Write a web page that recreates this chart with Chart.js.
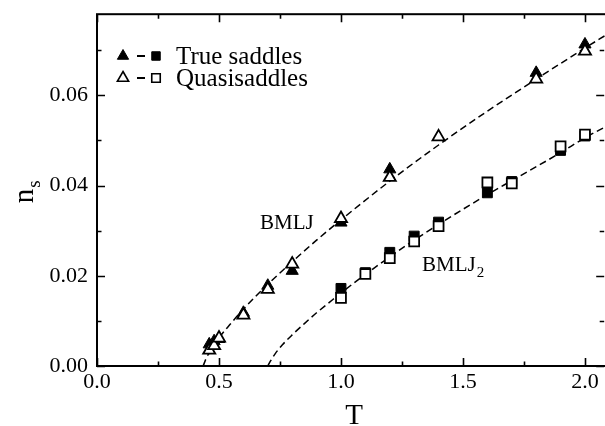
<!DOCTYPE html>
<html><head><meta charset="utf-8">
<script src="https://cdn.jsdelivr.net/npm/chart.js@4"></script>
<style>html,body{margin:0;padding:0;overflow:hidden;background:#fff}#wrap{width:615px;height:426px}</style>
</head><body><div id="wrap"><canvas id="c" width="615" height="426"></canvas></div>
<script>
// ---- data ----
const xTicks = [0, 0.5, 1.0, 1.5, 2.0];
const xTickLabels = ['0.0', '0.5', '1.0', '1.5', '2.0'];
const xMinor = [0.25, 0.75, 1.25, 1.75];
const yTicks = [0, 0.02, 0.04, 0.06];
const yTickLabels = ['0.00', '0.02', '0.04', '0.06'];
const yMinor = [0.01, 0.03, 0.05, 0.07];

// BMLJ (triangles)
const tTrueA  = [0.46, 0.48, 0.50, 0.60, 0.70, 0.80, 1.00, 1.20, 1.80, 2.00];
const nTrueA  = [0.0048, 0.0055, 0.0060, 0.0118, 0.0178, 0.0211, 0.0318, 0.0436, 0.0650, 0.0713];
const tQuasiA = [0.46, 0.48, 0.50, 0.60, 0.70, 0.80, 1.00, 1.20, 1.40, 1.80, 2.00];
const nQuasiA = [0.0035, 0.0045, 0.0062, 0.0113, 0.0170, 0.0226, 0.0327, 0.0418, 0.0508, 0.0636, 0.0698];
// BMLJ2 (squares)
const tB      = [1.0, 1.1, 1.2, 1.3, 1.4, 1.6, 1.7, 1.9, 2.0];
const nTrueB  = [0.0172, 0.0207, 0.0252, 0.0288, 0.0319, 0.0384, 0.0409, 0.0478, 0.0510];
const nQuasiB = [0.0151, 0.0204, 0.0239, 0.0276, 0.0310, 0.0407, 0.0405, 0.0487, 0.0513];
// dashed fit curves
const tFitA = [0.435, 0.45, 0.47, 0.50, 0.55, 0.60, 0.70, 0.80, 0.90, 1.00, 1.20, 1.40, 1.60, 1.80, 2.00, 2.09];
const nFitA = [0, 0.0020, 0.0036, 0.0062, 0.0095, 0.0126, 0.0181, 0.0231, 0.0279, 0.0324, 0.0410, 0.0490, 0.0565, 0.0636, 0.0705, 0.0735];
const tFitB = [0.70, 0.71, 0.73, 0.76, 0.80, 0.85, 0.90, 0.95, 1.00, 1.10, 1.20, 1.30, 1.40, 1.60, 1.70, 1.90, 2.00, 2.09];
const nFitB = [0, 0.0010, 0.0027, 0.0047, 0.0069, 0.0094, 0.0118, 0.0140, 0.0162, 0.0203, 0.0242, 0.0279, 0.0314, 0.0380, 0.0411, 0.0473, 0.0506, 0.0532];

const legendLabels = ['True saddles', 'Quasisaddles'];
const curveLabels = ['BMLJ', 'BMLJ'];

const pts = (xs, ys) => xs.map((x, i) => ({x: x, y: ys[i]}));
const SERIF = '"Liberation Serif", "DejaVu Serif", serif';
Chart.defaults.font.family = SERIF;
Chart.defaults.color = '#000';

const R = 7;
const markerDs = (label, xs, ys, style, filled, order) => ({
  label, data: pts(xs, ys), showLine: false, order,
  pointStyle: style, pointRadius: R, pointHoverRadius: R,
  pointBackgroundColor: filled ? '#000' : '#fff', pointBorderColor: '#000',
  pointBorderWidth: filled ? 1 : 1.8
});
const lineDs = (label, xs, ys) => ({
  label, data: pts(xs, ys), showLine: true, order: 10,
  borderColor: '#000', borderWidth: 1.5, borderDash: [7, 4], pointRadius: 0,
  cubicInterpolationMode: 'monotone', fill: false
});

const decor = {
  id: 'decor',
  afterDraw(chart) {
    const ctx = chart.ctx, a = chart.chartArea, xs = chart.scales.x, ys = chart.scales.y;
    ctx.save();
    ctx.strokeStyle = '#000';
    ctx.lineWidth = 2;
    ctx.strokeRect(a.left, a.top, a.right - a.left, a.bottom - a.top);
    ctx.lineWidth = 1.6;
    ctx.beginPath();
    const tick = (arr, len, isX) => arr.forEach(v => {
      if (isX) {
        const p = Math.round(xs.getPixelForValue(v)) + 0.5;
        ctx.moveTo(p, a.bottom); ctx.lineTo(p, a.bottom - len);
        ctx.moveTo(p, a.top); ctx.lineTo(p, a.top + len);
      } else {
        const p = Math.round(ys.getPixelForValue(v)) + 0.5;
        ctx.moveTo(a.left, p); ctx.lineTo(a.left + len, p);
        ctx.moveTo(a.right - 2, p); ctx.lineTo(a.right - 2 - len, p);
      }
    });
    tick(xTicks, 8, true); tick(xMinor, 4.5, true);
    tick(yTicks, 8, false); tick(yMinor, 4.5, false);
    ctx.stroke();

    // legend
    const drawPt = (style, x, y, filled, r) => {
      ctx.fillStyle = filled ? '#000' : '#fff';
      ctx.lineWidth = filled ? 1 : 1.6;
      Chart.helpers.drawPoint(ctx, {pointStyle: style, radius: r, borderWidth: ctx.lineWidth}, x, y);
    };
    const rows = [[56, true], [78, false]];
    ctx.font = '25px ' + SERIF;
    ctx.textBaseline = 'alphabetic';
    ctx.textAlign = 'left';
    rows.forEach(([y, filled], i) => {
      drawPt('triangle', 123, y, filled, 6.5);
      ctx.fillStyle = '#000';
      ctx.fillRect(137, y - 1, 8, 2);
      drawPt('rect', 156, y, filled, 6);
      ctx.fillStyle = '#000';
      ctx.fillText(legendLabels[i], 176, y + 8);
    });

    // curve annotations
    ctx.font = '21px ' + SERIF;
    ctx.fillText(curveLabels[0], 260, 229);
    ctx.fillText(curveLabels[1], 422, 271);
    const w = ctx.measureText(curveLabels[1]).width;
    ctx.font = '15px ' + SERIF;
    ctx.fillText('2', 422 + w + 1, 277);

    // axis titles
    ctx.font = '29px ' + SERIF;
    ctx.textAlign = 'center';
    ctx.fillText('T', 354, 424);
    ctx.save();
    ctx.translate(33, 192);
    ctx.rotate(-Math.PI / 2);
    ctx.textAlign = 'left';
    ctx.font = '29px ' + SERIF;
    const nw = ctx.measureText('n').width;
    ctx.fillText('n', -nw / 2 - 4, 0);
    ctx.font = '19px ' + SERIF;
    ctx.fillText('s', nw / 2 - 4 + 1, 7);
    ctx.restore();
    ctx.restore();
  }
};

new Chart(document.getElementById('c'), {
  type: 'scatter',
  data: {
    datasets: [
      markerDs('Quasi BMLJ', tQuasiA, nQuasiA, 'triangle', false, 1),
      markerDs('Quasi BMLJ2', tB, nQuasiB, 'rect', false, 1),
      markerDs('True BMLJ', tTrueA, nTrueA, 'triangle', true, 2),
      markerDs('True BMLJ2', tB, nTrueB, 'rect', true, 2),
      lineDs('Fit BMLJ', tFitA, nFitA),
      lineDs('Fit BMLJ2', tFitB, nFitB)
    ]
  },
  options: {
    responsive: false, animation: false,
    layout: {padding: {left: 0, top: 14, right: 8, bottom: 0}},
    plugins: {legend: {display: false}, tooltip: {enabled: false}},
    scales: {
      x: {
        type: 'linear', min: 0, max: 2.087,
        afterBuildTicks: s => { s.ticks = xTicks.map(v => ({value: v})); },
        afterFit: s => { s.height = 60; },
        grid: {display: false}, border: {display: false},
        ticks: {padding: -3, color: '#000', font: {family: SERIF, size: 22, lineHeight: 1},
                maxRotation: 0, autoSkip: false,
                callback: (v, i) => xTickLabels[i]}
      },
      y: {
        type: 'linear', min: 0, max: 0.078,
        afterBuildTicks: s => { s.ticks = yTicks.map(v => ({value: v})); },
        afterFit: s => { s.width = 97; },
        grid: {display: false}, border: {display: false},
        ticks: {padding: 1, color: '#000', font: {family: SERIF, size: 22},
                autoSkip: false, callback: (v, i) => yTickLabels[i]}
      }
    }
  },
  plugins: [decor]
});
</script></body></html>
